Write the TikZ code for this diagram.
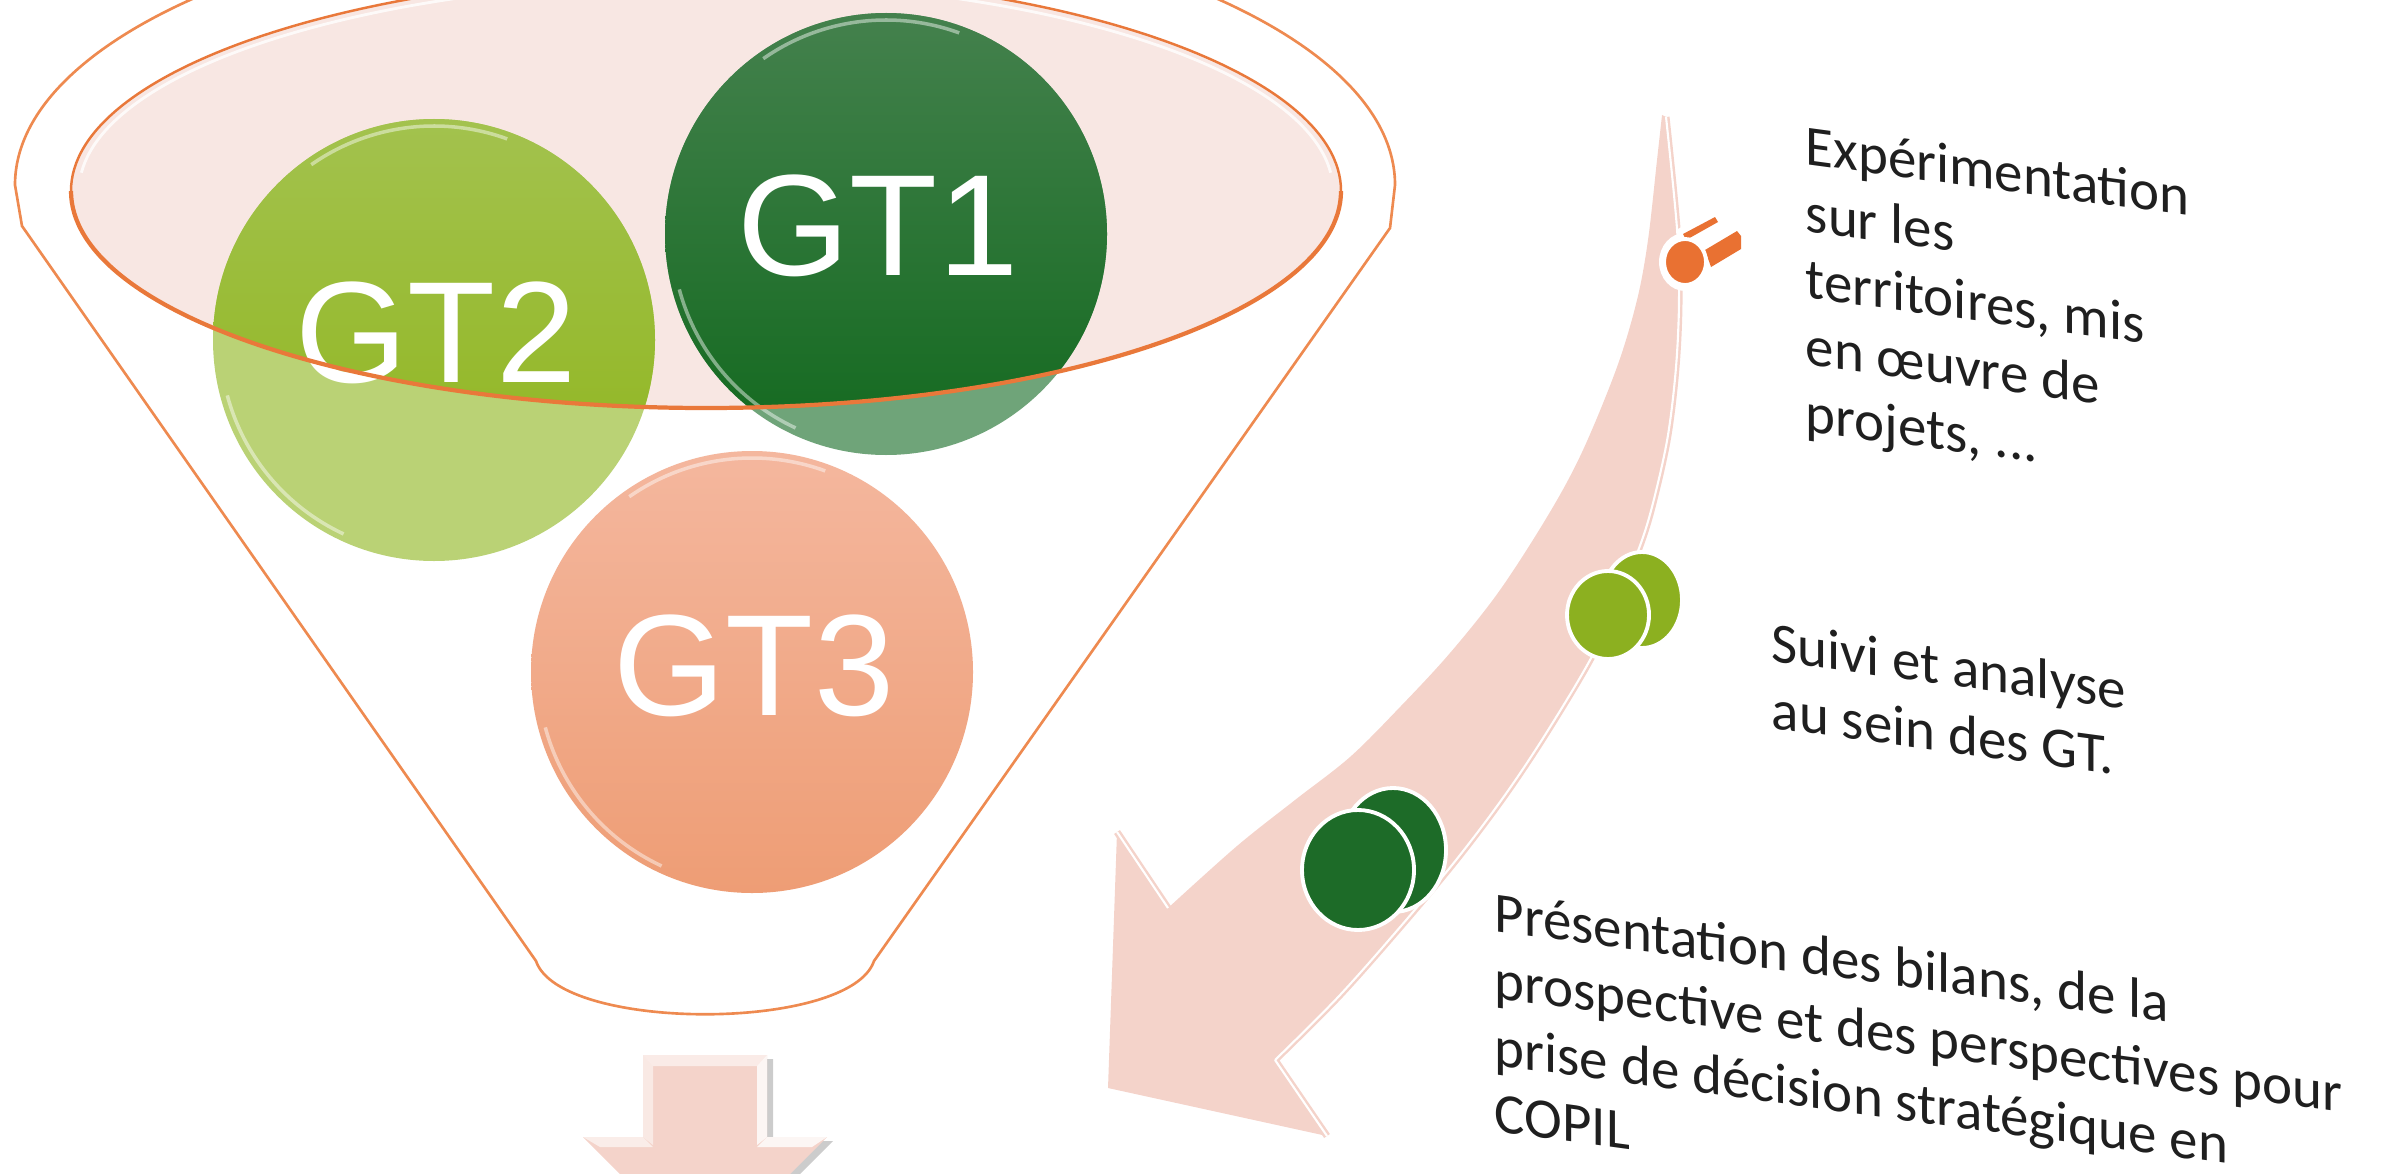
\documentclass[tikz,border=0pt]{standalone}
\usepackage{fontspec}
\setmainfont{Carlito}
\newfontfamily\arialf{Liberation Sans}
\definecolor{funnelline}{HTML}{EE8A50}
\definecolor{rimline}{HTML}{E9783A}
\definecolor{rimfill}{HTML}{F8E7E3}
\definecolor{bandpink}{HTML}{F4D3CA}
\definecolor{gtonelight}{HTML}{6FA479}
\definecolor{gtonetop}{HTML}{44814D}
\definecolor{gtonebot}{HTML}{12691E}
\definecolor{gttwolight}{HTML}{BAD275}
\definecolor{gttwotop}{HTML}{A3C24E}
\definecolor{gttwobot}{HTML}{8DB418}
\definecolor{gtthreetop}{HTML}{F4B79E}
\definecolor{gtthreebot}{HTML}{EE9D75}
\definecolor{iconorange}{HTML}{E97132}
\definecolor{iconlime}{HTML}{8CB020}
\definecolor{icondark}{HTML}{1D6B28}
\tikzset{
  gtlabel/.style={text=white, font=\arialf\fontsize{41pt}{41pt}\selectfont, inner sep=0pt},
  steptext/.style={font=\fontsize{16.2pt}{19pt}\selectfont, align=left, anchor=north west,
                   inner sep=0pt, yslant=-0.135, text=black!88},
  disc/.style={draw=white, line width=1.1pt},
  glint/.style={white, opacity=0.45, line width=1pt},
  edgeline/.style={bandpink, line width=2pt},
  gapline/.style={white, line width=0.6pt},
}
\begin{document}
\begin{tikzpicture}[x=0.01cm,y=-0.01cm]
\useasboundingbox (0,0) rectangle (2392,1173);
\clip (0,0) rectangle (2392,1173);

% funnel outline
\filldraw[fill=white, draw=funnelline, line width=0.75pt]
  (15,185) arc[start angle=180, end angle=360, x radius=690, y radius=278]
  -- (1390,228) -- (874,961) .. controls (850,1032) and (560,1032) .. (536,961)
  -- (22,226) -- cycle;

% rim fill
\fill[rimfill] (706,191) ellipse[x radius=635, y radius=217];

% circles: lighter parts outside the rim
\fill[gttwolight] (434,340) circle[radius=221];
\fill[gtonelight] (886,234) circle[radius=221];
\begin{scope}
  \clip (706,191) ellipse[x radius=635, y radius=217];
  \shade[top color=gttwotop, bottom color=gttwobot] (434,340) circle[radius=221];
  \shade[top color=gtonetop, bottom color=gtonebot] (886,234) circle[radius=221];
\end{scope}
\shade[top color=gtthreetop, bottom color=gtthreebot] (752,672) circle[radius=221];

% glints
\draw[glint] (434,340) ++(115:214) arc[start angle=115, end angle=165, radius=214];
\draw[glint] (434,340) ++(235:214) arc[start angle=235, end angle=290, radius=214];
\draw[glint] (886,234) ++(115:214) arc[start angle=115, end angle=165, radius=214];
\draw[glint] (886,234) ++(235:214) arc[start angle=235, end angle=290, radius=214];
\draw[glint] (752,672) ++(115:214) arc[start angle=115, end angle=165, radius=214];
\draw[glint] (752,672) ++(235:214) arc[start angle=235, end angle=290, radius=214];

% labels
\node[gtlabel] (gtone) at (878,226) {GT1};
\node[gtlabel] (gttwo) at (436,333) {GT2};
\node[gtlabel] (gtthree) at (754,666) {GT3};

% rim outline
\draw[rimline, line width=0.7pt] (706,191) ellipse[x radius=635, y radius=217];
\draw[rimline, line width=1.2pt] (71,191) arc[start angle=180, end angle=0, x radius=635, y radius=217];
\draw[white, line width=0.8pt, opacity=0.8] (81.4,172.7) arc[start angle=185, end angle=355, x radius=627, y radius=210];

% down arrow
\fill[gray, opacity=0.4] (649,1059) -- (773,1059) -- (773,1141) -- (833,1141) -- (711,1263) -- (589,1141) -- (649,1141) -- cycle;
\fill[bandpink] (643,1055) -- (767,1055) -- (767,1137) -- (827,1137) -- (705,1259) -- (583,1137) -- (643,1137) -- cycle;
\fill[white, opacity=0.55] (643,1055) -- (767,1055) -- (757,1066) -- (653,1066) -- cycle;
\fill[white, opacity=0.5] (643,1055) -- (653,1066) -- (653,1145) -- (643,1137) -- cycle;
\fill[white, opacity=0.8] (767,1055) -- (757,1066) -- (757,1145) -- (767,1137) -- cycle;
\fill[white, opacity=0.6] (583,1137) -- (643,1137) -- (653,1147) -- (600,1147) -- cycle;
\fill[white, opacity=0.8] (767,1137) -- (827,1137) -- (812,1147) -- (757,1147) -- cycle;

% curved band arrow
\fill[bandpink] (1662,115)
  -- plot[smooth, tension=0.55] coordinates {(1662,115) (1657,160) (1648,240) (1637,300) (1617,367) (1583,450) (1550,512) (1500,590) (1450,653) (1400,707) (1350,757) (1295,800) (1237,846) (1168,908)}
  -- (1117,832) -- (1108,1088) -- (1327,1136) -- (1275,1060)
  -- plot[smooth, tension=0.55] coordinates {(1275,1060) (1340,995) (1407,919) (1460,855) (1505,795) (1545,735) (1590,660) (1618,600) (1642,540) (1655,495) (1668,435) (1676,367) (1679,300) (1677,229) (1666,117)}
  -- cycle;
\draw[edgeline] plot[smooth, tension=0.55] coordinates {(1275,1060) (1340,995) (1407,919) (1460,855) (1505,795) (1545,735) (1590,660) (1618,600) (1642,540) (1655,495) (1668,435) (1676,367) (1679,300) (1677,229) (1666,117)};
\draw[edgeline] (1117,832) -- (1168,908);
\draw[edgeline] (1275,1060) -- (1327,1136);
\draw[gapline] plot[smooth, tension=0.55] coordinates {(1275,1060) (1340,995) (1407,919) (1460,855) (1505,795) (1545,735) (1590,660) (1618,600) (1642,540) (1655,495) (1668,435) (1676,367) (1679,300) (1677,229) (1666,117)};
\draw[gapline] (1117,832) -- (1168,908);
\draw[gapline] (1275,1060) -- (1327,1136);

% icons
\fill[white] (1676,230) -- (1720,207) -- (1746,224) -- (1747,254) -- (1710,277) -- (1690,284) -- cycle;
\fill[white] (1685,262) ellipse[x radius=26, y radius=29];
\fill[iconorange] (1705,250) -- (1737,231) -- (1741,236) -- (1741,249) -- (1711,267) -- cycle;
\fill[iconorange] (1683,234) -- (1715,217) -- (1718,222) -- (1686,240) -- cycle;
\draw[disc, fill=iconorange] (1685,262) ellipse[x radius=21, y radius=23];

\draw[disc, fill=iconlime] (1642,600) ellipse[x radius=40, y radius=48];
\draw[disc, fill=iconlime] (1608,615) ellipse[x radius=41, y radius=44];

\draw[disc, fill=icondark] (1393,850) ellipse[x radius=53, y radius=62];
\draw[disc, fill=icondark] (1358,870) ellipse[x radius=56, y radius=60];

% texts
\node[steptext] (stepone) at (1805,124) {Expérimentation\\sur les\\territoires, mis\\en œuvre de\\projets, ...};
\node[steptext] (steptwo) at (1771,621) {Suivi et analyse\\au sein des GT.};
\node[steptext] (stepthree) at (1494,891) {Présentation des bilans, de la\\prospective et des perspectives pour\\prise de décision stratégique en\\COPIL};
\end{tikzpicture}
\end{document}
